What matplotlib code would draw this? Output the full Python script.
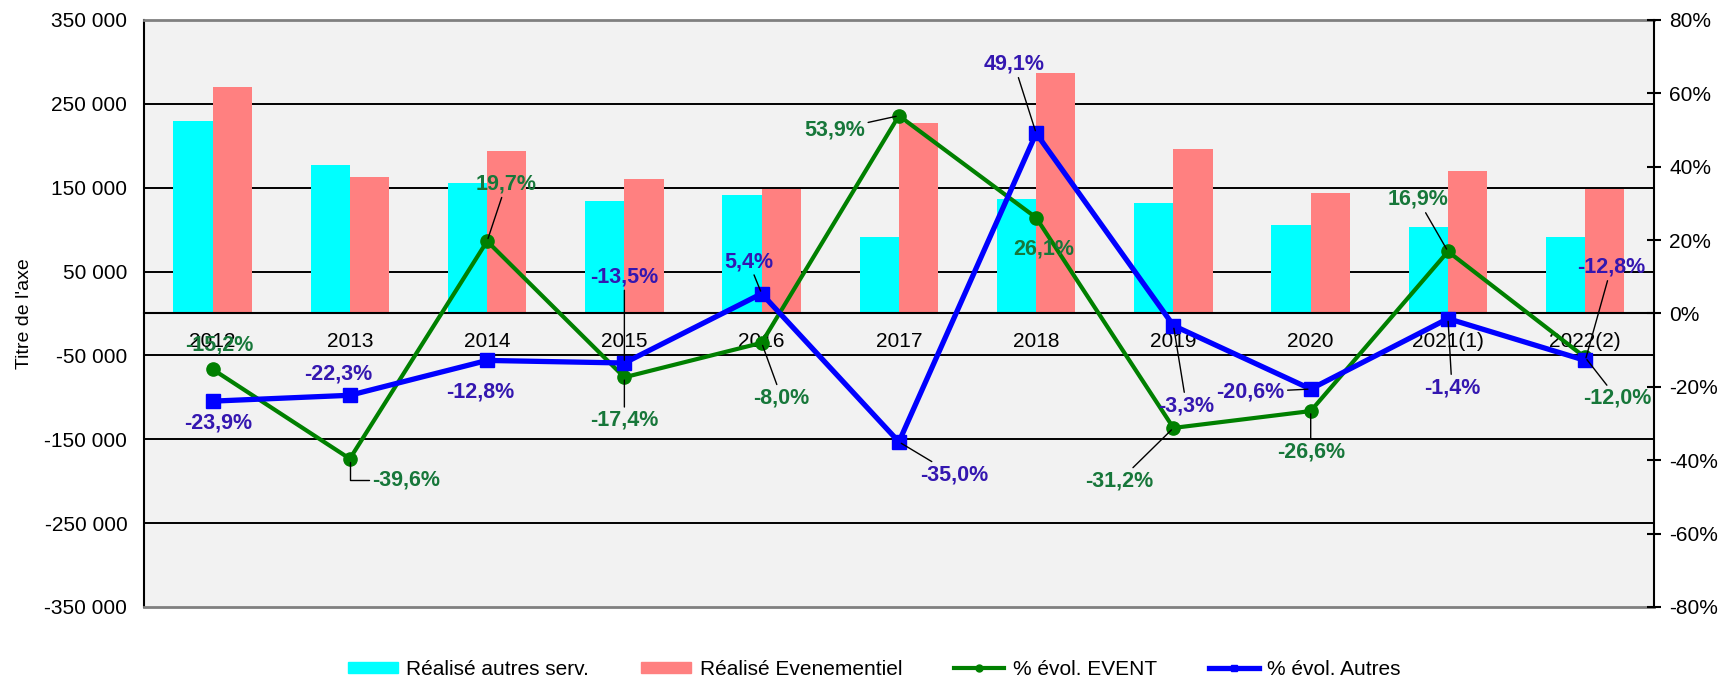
import matplotlib
matplotlib.use("Agg")
import matplotlib.pyplot as plt
from matplotlib.lines import Line2D
from matplotlib.patches import Patch
import numpy as np

plt.rcParams['font.family'] = ['Liberation Sans', 'DejaVu Sans']

years = ['2012', '2013', '2014', '2015', '2016', '2017', '2018', '2019', '2020', '2021(1)', '2022(2)']
autres = [230000, 177000, 156000, 134000, 141000, 91000, 137000, 132000, 106000, 103000, 91000]
event = [270500, 163000, 194000, 160500, 148000, 227500, 287000, 196000, 144000, 170000, 149000]
evol_event = [-15.2, -39.6, 19.7, -17.4, -8.0, 53.9, 26.1, -31.2, -26.6, 16.9, -12.0]
evol_autres = [-23.9, -22.3, -12.8, -13.5, 5.4, -35.0, 49.1, -3.3, -20.6, -1.4, -12.8]

# label offsets in pixels (dx, dy) and leader line style (None = no leader)
event_off = [(7, 24), (56, -21), (19, 57), (0, -43), (20, -55), (-64, -14),
             (8, -31), (-54, -53), (0, -41), (-30, 52), (32, -41)]
event_lead = [None, 'angle,angleA=0,angleB=90,rad=0', 'arc3', 'arc3', 'arc3', 'arc3',
              None, 'arc3', 'arc3', 'arc3', 'arc3']
autres_off = [(6, -22), (-12, 21), (-7, -32), (0, 86), (-13, 32), (55, -33),
              (-22, 69), (13, -80), (-60, -3), (4, -69), (26, 93)]
autres_lead = [None, None, None, 'arc3', 'arc3', 'arc3', 'arc3', 'arc3', 'arc3', 'arc3', 'arc3']

c_cyan = '#00FFFF'
c_red = '#FF8080'
c_green = '#008000'
c_blue = '#0000FF'
lab_green = '#17773A'
lab_blue = '#3417B0'

fig = plt.figure(figsize=(17.28, 6.81), dpi=100)
ax = fig.add_axes([0.0833, 0.1087, 0.8738, 0.862])
ax.set_facecolor('#F2F2F2')

x = np.arange(len(years))
w = 0.2857
ax.bar(x - w / 2, autres, w, color=c_cyan, zorder=2)
ax.bar(x + w / 2, event, w, color=c_red, zorder=2)

ax.set_xlim(-0.5, len(years) - 0.5)
ax.set_ylim(-350000, 350000)
ax.set_yticks(np.arange(-350000, 350001, 100000))
ax.set_yticklabels([f"{v:,.0f}".replace(',', ' ') for v in np.arange(-350000, 350001, 100000)])
for g in [-250000, -150000, -50000, 50000, 150000, 250000]:
    ax.axhline(g, color='black', lw=1.4, zorder=1)
ax.tick_params(axis='y', length=0, labelsize=15, pad=12)

ax.spines['bottom'].set_position(('data', 0))
ax.spines['bottom'].set_color('black')
ax.spines['bottom'].set_linewidth(1.5)
ax.spines['bottom'].set_zorder(3)
ax.axhline(-350000, color='#808080', lw=2, zorder=3, clip_on=False)
ax.spines['top'].set_color('#808080')
ax.spines['top'].set_linewidth(2)
ax.spines['left'].set_linewidth(1.5)
ax.spines['right'].set_visible(False)
ax.set_xticks(x)
ax.set_xticklabels(years)
ax.tick_params(axis='x', length=0, labelsize=15, pad=13)
ax.set_ylabel("Titre de l'axe", fontsize=14, labelpad=8)

ax2 = ax.twinx()
ax2.set_ylim(-80, 80)
ax2.set_yticks(np.arange(-80, 81, 20))
ax2.set_yticklabels([f"{v}%" for v in np.arange(-80, 81, 20)])
ax2.tick_params(axis='y', direction='inout', length=10, width=1.5, labelsize=15, pad=6)
ax2.spines['right'].set_linewidth(1.5)
for s in ['top', 'bottom', 'left']:
    ax2.spines[s].set_visible(False)

ax2.plot(x, evol_event, color=c_green, lw=3.0, marker='o', ms=9.5, zorder=5)
ax2.plot(x, evol_autres, color=c_blue, lw=3.8, marker='s', ms=9.5, zorder=6)

def fmt(v):
    return f"{v:.1f}%".replace('.', ',')

for vals, offs, leads, col in [(evol_event, event_off, event_lead, lab_green),
                               (evol_autres, autres_off, autres_lead, lab_blue)]:
    for i, v in enumerate(vals):
        ap = None
        if leads[i]:
            ap = dict(arrowstyle='-', color='black', lw=1, shrinkA=0, shrinkB=2,
                      connectionstyle=leads[i])
        ax2.annotate(fmt(v), xy=(i, v), xytext=offs[i], textcoords='offset pixels',
                     ha='center', va='center', fontsize=15.5, fontweight='bold', color=col,
                     arrowprops=ap, zorder=7)

handles = [Patch(color=c_cyan), Patch(color=c_red),
           Line2D([], [], color=c_green, lw=3.0, marker='o', ms=5),
           Line2D([], [], color=c_blue, lw=3.8, marker='s', ms=5)]
labels = ['Réalisé autres serv.', 'Réalisé Evenementiel', '% évol. EVENT', '% évol. Autres']
fig.legend(handles, labels, loc='center', bbox_to_anchor=(0.506, 0.017), ncol=4,
           frameon=False, fontsize=15, handlelength=2.4, handleheight=0.5,
           columnspacing=2.5, handletextpad=0.4)

fig.savefig('out.png', dpi=100)
